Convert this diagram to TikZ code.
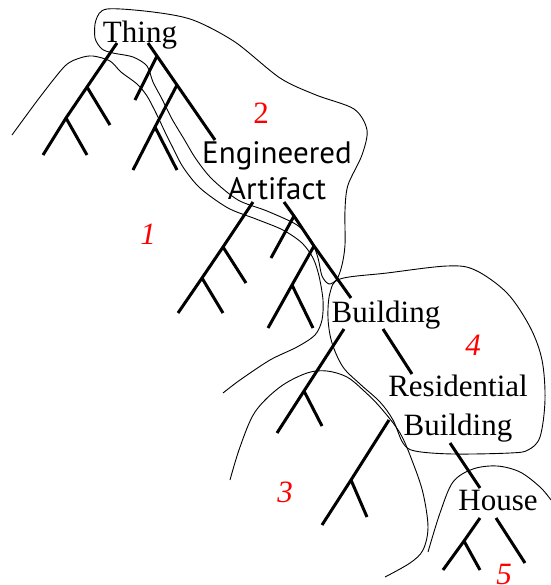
\documentclass[tikz,border=0pt]{standalone}
\usepackage{fontspec}
\setmainfont{Liberation Serif}
\newfontfamily\labelsans{PT Sans}
\tikzset{
  branch/.style={line width=1.5pt},
  region/.style={line width=0.45pt},
  concept/.style={inner sep=0pt, anchor=base, align=center, font=\fontsize{15.5}{19.5}\selectfont},
  regionno/.style={inner sep=0pt, text=red, font=\fontsize{15.5}{18}\selectfont\itshape},
}
\begin{document}
\begin{tikzpicture}[x=0.5pt, y=-0.5pt]
        \useasboundingbox (0,0) rectangle (551,585);

        % concepts (base = last line)
        \node[concept] (thing) at (140,42) {Thing};
        \node[concept, font=\fontsize{15.5}{18}\labelsans] (artifact) at (277,199) {Engineered\\Artifact};
        \node[concept] (building) at (386,322) {Building};
        \node[concept] (residential) at (458,435) {Residential\\Building};
        \node[concept] (house) at (498,510) {House};

        % region numbers
        \node[regionno, font=\fontsize{15.5}{18}\selectfont] (no2) at (261,113) {2};
        \node[regionno] (no1) at (148,234) {1};
        \node[regionno] (no3) at (285,492) {3};
        \node[regionno] (no4) at (473,345) {4};
        \node[regionno] (no5) at (504,574) {5};

        % subtree under Thing
        \coordinate (thingL) at (117,43);
        \coordinate (thingLa) at (87,87);
        \coordinate (thingLb) at (66,118);
        \coordinate (thingLc) at (43,155);
        \coordinate (thingLd) at (110,125);
        \coordinate (thingLe) at (87,155);
        \coordinate (thingR) at (148,43);
        \coordinate (thingRa) at (157,56);
        \coordinate (thingRb) at (135,100);
        \coordinate (thingRc) at (177,85);
        \coordinate (thingRd) at (215,140);
        \coordinate (thingRe) at (155,127);
        \coordinate (thingRf) at (133,170);
        \coordinate (thingRg) at (177,170);
        \draw[branch] (thingL) -- (thingLa) -- (thingLb) -- (thingLc);
        \draw[branch] (thingLa) -- (thingLd);
        \draw[branch] (thingLb) -- (thingLe);
        \draw[branch] (thingR) -- (thingRa) -- (thingRc) -- (thingRd);
        \draw[branch] (thingRa) -- (thingRb);
        \draw[branch] (thingRc) -- (thingRe) -- (thingRf);
        \draw[branch] (thingRe) -- (thingRg);

        % subtree under Engineered Artifact
        \coordinate (artL) at (253,202);
        \coordinate (artLa) at (223,247);
        \coordinate (artLb) at (202,278);
        \coordinate (artLc) at (178,313);
        \coordinate (artLd) at (246,283);
        \coordinate (artLe) at (223,313);
        \coordinate (artR) at (284,202);
        \coordinate (artRa) at (294,216);
        \coordinate (artRb) at (271,258);
        \coordinate (artRc) at (314,246);
        \coordinate (artRd) at (351,298);
        \coordinate (artRe) at (292,285);
        \coordinate (artRf) at (268,328);
        \coordinate (artRg) at (313,328);
        \draw[branch] (artL) -- (artLa) -- (artLb) -- (artLc);
        \draw[branch] (artLa) -- (artLd);
        \draw[branch] (artLb) -- (artLe);
        \draw[branch] (artR) -- (artRa) -- (artRc) -- (artRd);
        \draw[branch] (artRa) -- (artRb);
        \draw[branch] (artRc) -- (artRe) -- (artRf);
        \draw[branch] (artRe) -- (artRg);

        % subtree under Building
        \coordinate (bldL) at (344,329);
        \coordinate (bldLa) at (304,391);
        \coordinate (bldLb) at (277,433);
        \coordinate (bldLc) at (322,426);
        \coordinate (bldR) at (383,329);
        \coordinate (bldRa) at (412,374);
        \draw[branch] (bldL) -- (bldLa) -- (bldLb);
        \draw[branch] (bldLa) -- (bldLc);
        \draw[branch] (bldR) -- (bldRa);

        % subtree under Residential Building
        \coordinate (resL) at (389,420);
        \coordinate (resLa) at (351,480);
        \coordinate (resLb) at (322,525);
        \coordinate (resLc) at (367,517);
        \coordinate (resR) at (450,443);
        \coordinate (resRa) at (480,488);
        \draw[branch] (resL) -- (resLa) -- (resLb);
        \draw[branch] (resLa) -- (resLc);
        \draw[branch] (resR) -- (resRa);

        % subtree under House
        \coordinate (houseL) at (480,518);
        \coordinate (houseLa) at (464,541);
        \coordinate (houseLb) at (443,570);
        \coordinate (houseLc) at (480,570);
        \coordinate (houseR) at (496,518);
        \coordinate (houseRa) at (525,563);
        \draw[branch] (houseL) -- (houseLa) -- (houseLb);
        \draw[branch] (houseLa) -- (houseLc);
        \draw[branch] (houseR) -- (houseRa);

        % regions
        \draw[region] plot[smooth cycle, tension=0.5] coordinates {(107,9) (153,12) (193,20) (235,42) (280,78) (316,95) (354,109) (367,130) (362,155) (348,185) (345,210) (345,245) (342,265) (337,279) (329,284) (322,276) (318,258) (311,240) (297,225) (267,211) (238,200) (212,179) (196,159) (184,139) (172,119) (162,99) (153,82) (147,66) (133,57) (113,53) (102,49) (95,38) (96,20)};
        \draw[region] plot[smooth, tension=0.5] coordinates {(12,135) (40,97) (65,66) (80,58) (93,56) (110,61) (121,72) (137,84) (147,96) (157,115) (165,132) (172,146) (183,167) (200,188) (228,208) (256,219) (283,230) (302,243) (313,258) (319,276) (323,300) (322,320) (315,335) (297,347) (270,360) (240,380) (223,393)};
        \draw[region] plot[smooth cycle, tension=0.55] coordinates {(340,279) (387,273) (447,266) (475,270) (507,293) (530,327) (542,360) (545,400) (540,437) (528,450) (510,453) (453,454) (415,451) (403,443) (393,420) (380,402) (360,384) (343,367) (332,343) (328,318) (330,293)};
        \draw[region] plot[smooth, tension=0.55] coordinates {(230,480) (240,447) (255,412) (280,387) (307,373) (327,371) (347,377) (363,390) (380,407) (400,433) (413,463) (423,493) (428,527) (423,550) (410,563) (385,577)};
        \draw[region] plot[smooth, tension=0.55] coordinates {(428,552) (440,513) (453,482) (473,469) (497,466) (520,472) (540,487) (551,500)};
    \end{tikzpicture}
\end{document}
